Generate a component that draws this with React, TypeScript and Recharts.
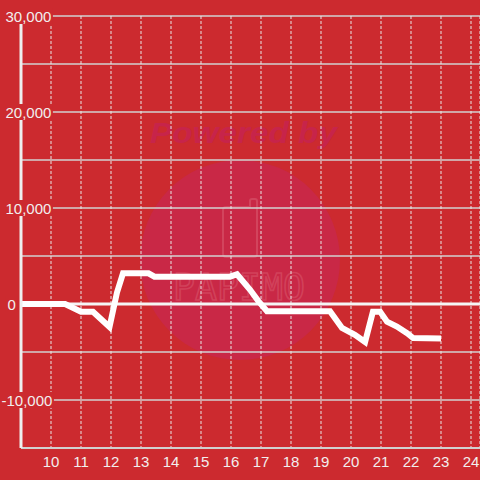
import React from 'react';
import { LineChart, Line, XAxis, YAxis, CartesianGrid, ReferenceLine } from 'recharts';

const xValues = [9, 10.47, 11.0, 11.4, 11.95, 12.2, 12.4, 13.25, 13.45, 15.97, 16.2, 16.63, 16.9, 17.2, 19.3, 19.7, 20.13, 20.47, 20.73, 20.97, 21.2, 21.53, 21.87, 22.07, 23.0];
const yValues = [0, 0, -800, -800, -2400, 1200, 3200, 3200, 2850, 2850, 3100, 1500, 350, -750, -750, -2500, -3200, -3950, -800, -800, -1850, -2350, -3050, -3550, -3600];
const xTicks = [10, 11, 12, 13, 14, 15, 16, 17, 18, 19, 20, 21, 22, 23, 24];
const yTicks = [-15000, -10000, -5000, 0, 5000, 10000, 15000, 20000, 25000, 30000];
const xDomain = [9, 24.3];
const yDomain = [-15000, 30000];

const data = xValues.map((x, i) => ({ x, y: yValues[i] }));

const BG = '#cc2a2f';
const TEXT = '#f2eeee';
const FONT = '"Liberation Sans", Arial, sans-serif';

function textWidth(s: string) {
  let w = 0;
  for (const c of s) {
    if (c === ',') w += 4.2;
    else if (c === '-') w += 5;
    else w += 8.34;
  }
  return w;
}

function YTick(props: any) {
  const { y, payload } = props;
  const v = payload.value as number;
  if (v % 10000 !== 0) return <g />;
  const label = v.toLocaleString('en-US');
  const x0 = v === 0 ? 7.5 : v < 0 ? 1.5 : 5.5;
  const w = textWidth(label);
  return (
    <g>
      <rect x={x0 - 2} y={y - 8} width={w + 3.5} height={16} fill={BG} />
      <text x={x0} y={y + 5.5} fill={TEXT} fontSize={15} fontFamily={FONT} textAnchor="start">
        {label}
      </text>
    </g>
  );
}

function XTick(props: any) {
  const { x, payload } = props;
  return (
    <text x={x} y={467} fill={TEXT} fontSize={15} fontFamily={FONT} textAnchor="middle">
      {String(payload.value)}
    </text>
  );
}

function Watermark() {
  return (
    <svg width={480} height={480} style={{ position: 'absolute', left: 0, top: 0 }}>
      <circle cx={240} cy={260} r={100} fill="#c92846" />
      <text x={150} y={143} fontSize={29} fontWeight="bold" fontStyle="italic" fontFamily={FONT} fill="#c7244a" textLength={187} lengthAdjust="spacingAndGlyphs">
        Powered by
      </text>
      <path d="M226 207 L250 207 L250 201 Q250 199 252 199 L255 199 Q257 199 257 201 L257 254 Q257 257 254 257 L226 257 Q223 257 223 254 L223 210 Q223 207 226 207 Z" fill="none" stroke="#d9566c" strokeWidth={2} opacity={0.6} />
      <text x={173} y={300} fontSize={37} fontFamily='"DejaVu Sans Mono", monospace' fill="none" stroke="#d9566c" strokeWidth={1.6} opacity={0.55} textLength={132} lengthAdjust="spacingAndGlyphs">
        PAPIMO
      </text>
    </svg>
  );
}

export default function App() {
  return (
    <div style={{ position: 'fixed', left: 0, top: 0, width: 480, height: 480, background: BG, overflow: 'hidden' }}>
      <Watermark />
      <div style={{ position: 'absolute', left: 0, top: 0 }}>
        <LineChart width={480} height={480} data={data} margin={{ top: 16, right: 0, left: 0, bottom: 2 }}>
          <CartesianGrid vertical={false} stroke="#d2d2d2" strokeWidth={1.3} />
          <CartesianGrid horizontal={false} stroke="#e8e8e8" strokeDasharray="3 2" strokeWidth={1} />
          <XAxis
            dataKey="x"
            type="number"
            domain={xDomain}
            ticks={xTicks}
            allowDataOverflow
            height={30}
            axisLine={{ stroke: '#d0d0d0', strokeWidth: 2 }}
            tickLine={false}
            tick={<XTick />}
            interval={0}
          />
          <YAxis
            type="number"
            domain={yDomain}
            ticks={yTicks}
            allowDataOverflow
            width={21}
            axisLine={{ stroke: '#eeeeee', strokeWidth: 3 }}
            tickLine={false}
            tick={<YTick />}
            interval={0}
          />
          <ReferenceLine y={0} stroke="#f5f5f5" strokeWidth={3} />
          <Line type="linear" dataKey="y" stroke="#ffffff" strokeWidth={6} dot={false} isAnimationActive={false} />
        </LineChart>
      </div>
    </div>
  );
}
